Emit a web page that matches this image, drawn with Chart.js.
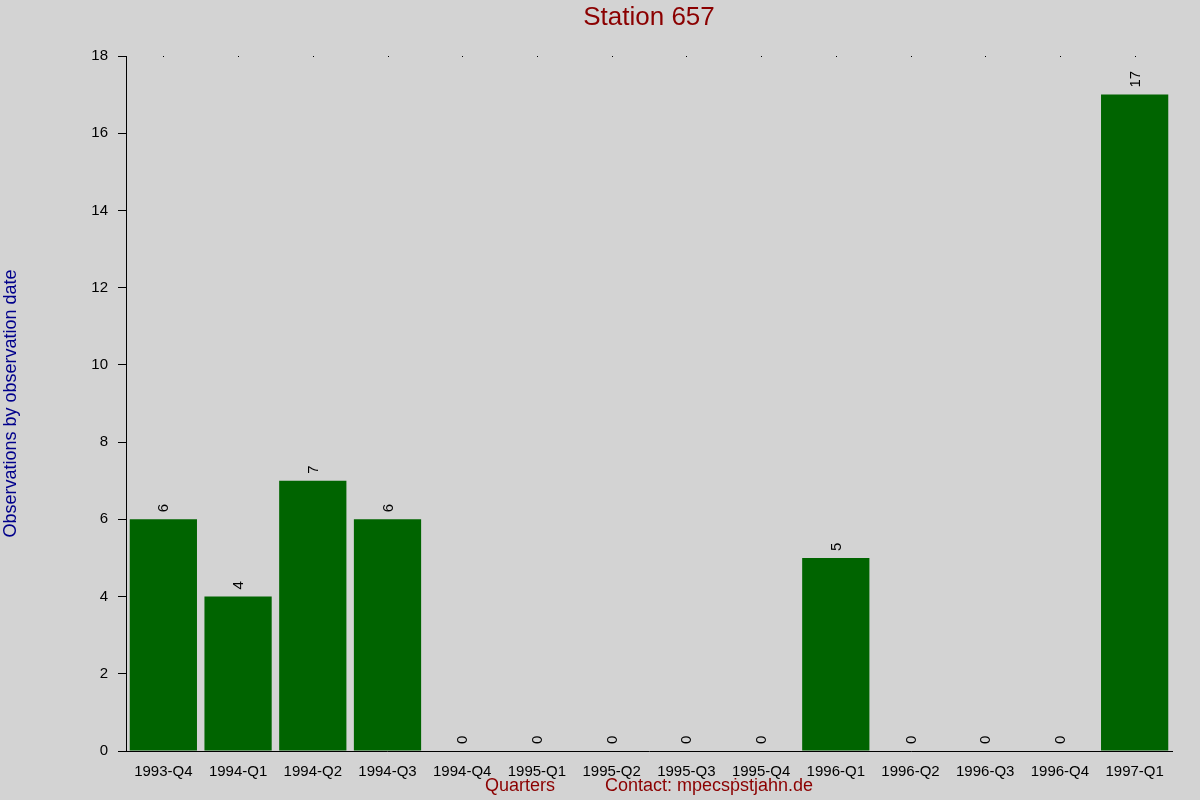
<!DOCTYPE html>
<html>
<head>
<meta charset="utf-8">
<title>Station 657</title>
<script src="https://cdn.jsdelivr.net/npm/chart.js@4"></script>
<style>
  html, body { margin: 0; padding: 0; background: #d3d3d3; }
  #wrap { width: 1200px; height: 800px; }
</style>
</head>
<body>
<div id="wrap"><canvas id="chart" width="1200" height="800"></canvas></div>
<script>
// data
const quarters = ['1993-Q4', '1994-Q1', '1994-Q2', '1994-Q3', '1994-Q4', '1995-Q1', '1995-Q2',
                  '1995-Q3', '1995-Q4', '1996-Q1', '1996-Q2', '1996-Q3', '1996-Q4', '1997-Q1'];
const observations = [6, 4, 7, 6, 0, 0, 0, 0, 0, 5, 0, 0, 0, 17];
const yTicks = [0, 2, 4, 6, 8, 10, 12, 14, 16, 18];

const FONT = 'Liberation Sans, Arial, sans-serif';
const TITLE = 'Station 657';

const bgPlugin = {
    id: 'bg',
    beforeDraw(chart) {
        const ctx = chart.ctx;
        ctx.save();
        ctx.fillStyle = '#d3d3d3';
        ctx.fillRect(0, 0, chart.width, chart.height);
        ctx.restore();
    }
};

// title centred over the plot area, not the whole canvas
const titlePlugin = {
    id: 'plotTitle',
    afterDraw(chart) {
        const ctx = chart.ctx;
        const area = chart.chartArea;
        ctx.save();
        ctx.fillStyle = '#8b0000';
        ctx.font = '26px ' + FONT;
        ctx.textAlign = 'center';
        ctx.textBaseline = 'middle';
        ctx.fillText(TITLE, (area.left + area.right) / 2, 18);
        ctx.restore();
    }
};

// rotated value above each bar, plus the little dots along the top edge
const labelPlugin = {
    id: 'barLabels',
    afterDatasetsDraw(chart) {
        const ctx = chart.ctx;
        const meta = chart.getDatasetMeta(0);
        const xs = chart.scales.x;
        ctx.save();
        ctx.fillStyle = '#000';
        quarters.forEach((q, i) => {
            ctx.fillRect(Math.round(xs.getPixelForValue(i)), chart.chartArea.top, 1, 1);
        });
        ctx.font = '15px ' + FONT;
        ctx.textAlign = 'left';
        ctx.textBaseline = 'middle';
        meta.data.forEach((bar, i) => {
            ctx.save();
            ctx.translate(bar.x + 1, bar.y - 7);
            ctx.rotate(-Math.PI / 2);
            ctx.fillText(String(observations[i]), 0, 0);
            ctx.restore();
        });
        ctx.restore();
    }
};

const ctx = document.getElementById('chart').getContext('2d');
new Chart(ctx, {
    type: 'bar',
    data: {
        labels: quarters,
        datasets: [{
            label: 'Observations',
            data: observations,
            backgroundColor: '#006400',
            borderWidth: 0,
            barPercentage: 0.9,
            categoryPercentage: 1.0
        }]
    },
    options: {
        responsive: false,
        animation: false,
        layout: { padding: { left: 0, right: 28, top: 56, bottom: 0 } },
        plugins: {
            legend: { display: false },
            tooltip: { enabled: false },
            title: { display: false }
        },
        scales: {
            x: {
                grid: { display: false },
                border: { display: true, color: '#000', width: 1 },
                ticks: { color: '#000', font: { family: FONT, size: 15 }, padding: 4, maxRotation: 0, autoSkip: false },
                title: {
                    display: true,
                    text: 'Quarters          Contact: mpecs\u1e57stjahn.de',
                    color: '#8b0000',
                    font: { family: FONT, size: 18 },
                    padding: { top: 0, bottom: 3 }
                },
                afterFit(scale) { scale.height = 49; }
            },
            y: {
                min: 0,
                max: 18,
                afterBuildTicks(scale) { scale.ticks = yTicks.map(v => ({ value: v })); },
                grid: { drawOnChartArea: false, drawTicks: true, tickLength: 8, color: '#000' },
                border: { display: true, color: '#000', width: 1 },
                ticks: { color: '#000', font: { family: FONT, size: 15 }, padding: 10 },
                title: {
                    display: true,
                    text: 'Observations by observation date',
                    color: '#00008b',
                    font: { family: FONT, size: 18 },
                    padding: 0
                },
                afterFit(scale) { scale.width = 126; }
            }
        }
    },
    plugins: [bgPlugin, labelPlugin, titlePlugin]
});
</script>
</body>
</html>
